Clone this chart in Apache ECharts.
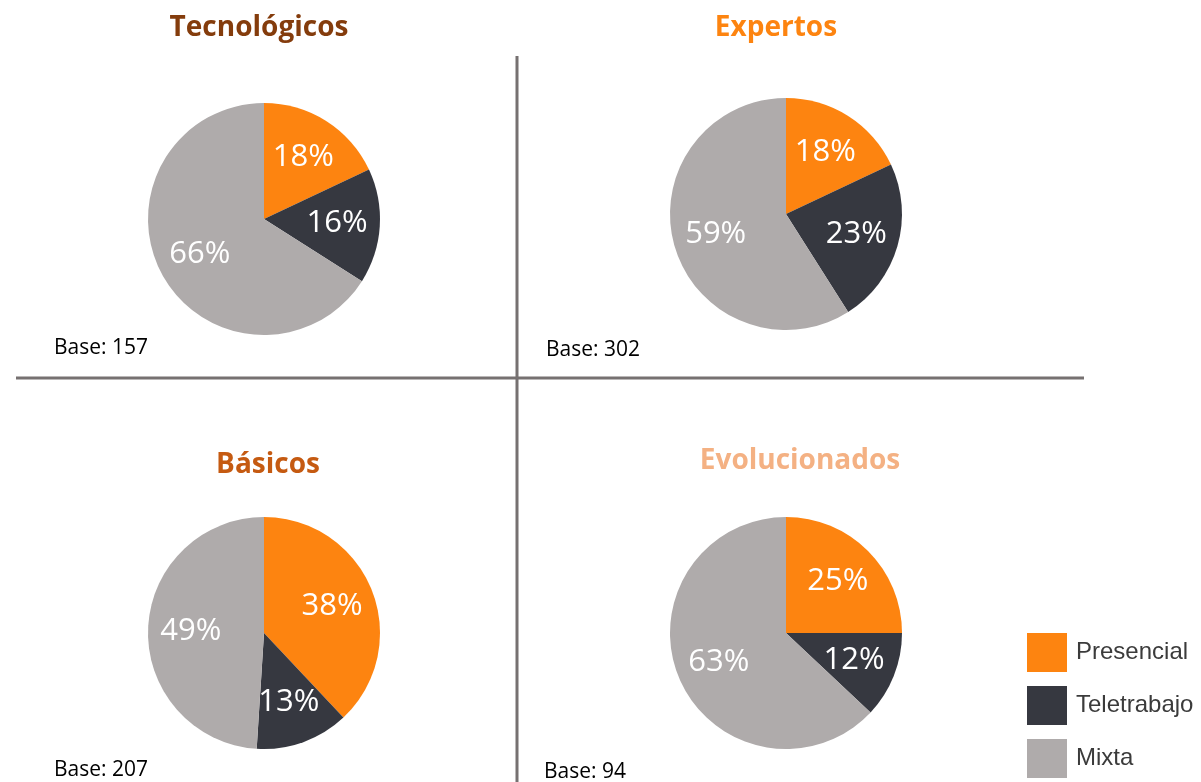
<!DOCTYPE html>
<html>
<head>
<meta charset="utf-8">
<script src="https://cdn.jsdelivr.net/npm/echarts@6/dist/echarts.min.js"></script>
<style>
  html, body { margin: 0; padding: 0; background: #fff; }
  #chart { width: 1201px; height: 782px; }
</style>
</head>
<body>
<div id="chart"></div>
<script>
const modes = ['Presencial', 'Teletrabajo', 'Mixta'];
const colors = ['#FD8410', '#363840', '#AFABAB'];

const groups = ['Tecnológicos', 'Expertos', 'Básicos', 'Evolucionados'];
const titleColors = ['#843C0C', '#FD8410', '#C55A11', '#F4B183'];
const bases = [157, 302, 207, 94];

const tecnologicos = [18, 16, 66];
const expertos = [18, 23, 59];
const basicos = [38, 13, 49];
const evolucionados = [25, 12, 63];
const values = [tecnologicos, expertos, basicos, evolucionados];

// layout of the four panels
const centers = [[264, 219], [786, 214], [264, 633], [786, 633]];
const titlePos = [[254, 9], [771, 9], [263, 446], [795, 442]];
const basePos = [[54, 348], [546, 350], [54, 770], [544, 772]];
const R = 116;

const chart = echarts.init(document.getElementById('chart'));

const series = values.map((vals, i) => ({
  type: 'pie',
  name: groups[i],
  center: centers[i],
  radius: [0, R],
  startAngle: 90,
  clockwise: true,
  animation: false,
  silent: true,
  label: {
    show: true,
    position: 'inside',
    formatter: '{c}%',
    color: '#fff',
    fontFamily: 'Open Sans',
    fontSize: 31
  },
  labelLine: { show: false },
  // push labels a bit further out than the default midpoint
  labelLayout: p => {
    const c = centers[i];
    const lx = p.labelRect.x + p.labelRect.width / 2;
    const ly = p.labelRect.y + p.labelRect.height / 2;
    const k = 1.2;
    return { x: c[0] + (lx - c[0]) * k, y: c[1] + (ly - c[1]) * k, align: 'center', verticalAlign: 'middle' };
  },
  itemStyle: { borderWidth: 0 },
  data: vals.map((v, j) => ({ name: modes[j], value: v, itemStyle: { color: colors[j] } }))
}));

const graphic = [
  { type: 'line', shape: { x1: 16, y1: 378, x2: 1084, y2: 378 }, style: { stroke: '#767171', lineWidth: 3 } },
  { type: 'line', shape: { x1: 517, y1: 56, x2: 517, y2: 782 }, style: { stroke: '#767171', lineWidth: 3 } }
].concat(bases.map((b, i) => ({
  type: 'text',
  x: basePos[i][0],
  y: basePos[i][1],
  style: {
    text: 'Base: ' + b,
    fill: '#000',
    font: '21px "Open Sans"',
    verticalAlign: 'middle'
  }
})));

chart.setOption({
  backgroundColor: '#fff',
  title: groups.map((g, i) => ({
    text: g,
    left: titlePos[i][0],
    top: titlePos[i][1],
    textAlign: 'center',
    textStyle: { color: titleColors[i], fontFamily: 'Open Sans', fontWeight: 'bold', fontSize: 28 }
  })),
  legend: {
    orient: 'vertical',
    left: 1027,
    top: 633,
    padding: 0,
    itemWidth: 40,
    itemHeight: 39,
    itemGap: 14,
    icon: 'rect',
    data: modes,
    selectedMode: false,
    textStyle: { fontFamily: 'Liberation Sans', fontSize: 24, color: '#3b3b3b', padding: [0, 0, 0, 4] }
  },
  series: series,
  graphic: graphic
});
</script>
</body>
</html>
